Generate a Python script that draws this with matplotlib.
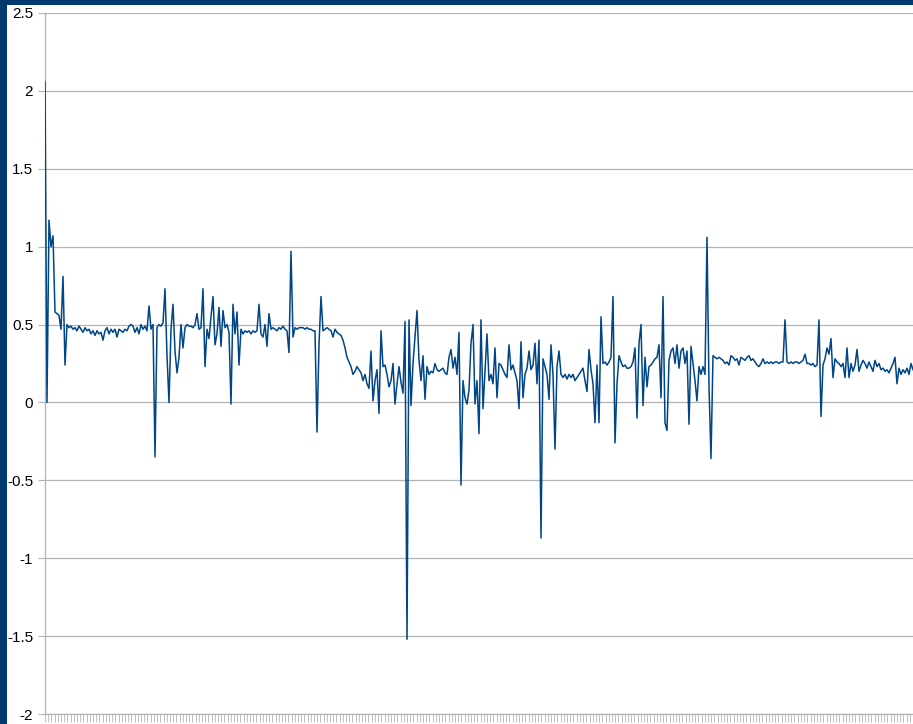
import matplotlib
matplotlib.use("Agg")
import matplotlib.pyplot as plt
from matplotlib.patches import Rectangle
import numpy as np

plt.rcParams['font.family'] = ['Liberation Sans', 'DejaVu Sans']
plt.rcParams['axes.unicode_minus'] = False

# Series values (one sample every ~2 px of the original chart)
seg1 = [2.06, 0.00, 1.17, 1.00, 1.07, 0.58, 0.57, 0.56, 0.47, 0.81, 0.24, 0.50,
        0.48, 0.49, 0.47, 0.48, 0.46, 0.49, 0.47, 0.45, 0.48, 0.46, 0.47, 0.44,
        0.46, 0.43, 0.46, 0.44, 0.45, 0.40, 0.46, 0.48, 0.44, 0.47, 0.45, 0.47,
        0.42, 0.47, 0.46, 0.45, 0.47, 0.46, 0.49, 0.50, 0.49, 0.45, 0.48, 0.44,
        0.50, 0.47, 0.49, 0.46, 0.62, 0.47, 0.50, -0.35, 0.48, 0.50, 0.49, 0.51,
        0.73, 0.30, 0.00, 0.47, 0.63, 0.33, 0.19, 0.29, 0.50, 0.35, 0.48, 0.50,
        0.49]
seg2 = [0.49, 0.48, 0.50, 0.57, 0.47, 0.48, 0.73, 0.23, 0.47, 0.41, 0.55, 0.68,
        0.37, 0.44, 0.61, 0.36, 0.59, 0.48, 0.50, 0.45, -0.01, 0.63, 0.44, 0.58,
        0.24, 0.47, 0.44, 0.46, 0.45, 0.46, 0.44, 0.46, 0.45, 0.46, 0.63, 0.44,
        0.42, 0.50, 0.36, 0.57, 0.47, 0.48, 0.47, 0.46, 0.48, 0.47, 0.49, 0.47,
        0.46, 0.32, 0.97, 0.42, 0.48, 0.47, 0.48, 0.48, 0.48, 0.47, 0.48, 0.47,
        0.47, 0.46, 0.46, -0.19, 0.37, 0.68, 0.46, 0.47, 0.48, 0.47, 0.46, 0.42,
        0.47]
seg3 = [0.45, 0.44, 0.43, 0.40, 0.35, 0.29, 0.26, 0.23, 0.18, 0.20, 0.23, 0.21,
        0.19, 0.14, 0.18, 0.12, 0.09, 0.33, 0.01, 0.14, 0.21, -0.07, 0.46, 0.23,
        0.24, 0.18, 0.10, 0.14, 0.25, -0.01, 0.12, 0.23, 0.13, 0.06, 0.52, -1.52,
        0.53, -0.02, 0.25, 0.42, 0.59, 0.27, 0.14, 0.30, 0.02, 0.23, 0.18, 0.20,
        0.19, 0.25, 0.21, 0.20, 0.21, 0.22, 0.19, 0.18, 0.29, 0.34, 0.22, 0.29,
        0.18, 0.45, -0.53, 0.14, 0.03, -0.01, 0.08, 0.38, 0.50, -0.01, 0.14, -0.20,
        0.53]
seg4 = [-0.04, 0.20, 0.44, 0.14, 0.18, 0.12, 0.35, 0.03, 0.25, 0.24, 0.21, 0.18,
        0.16, 0.37, 0.21, 0.24, 0.19, 0.14, -0.04, 0.39, 0.03, 0.18, 0.22, 0.33,
        0.21, 0.24, 0.38, 0.12, 0.40, -0.87, 0.28, 0.23, 0.18, 0.02, 0.37, 0.18,
        -0.30, 0.23, 0.33, 0.18, 0.16, 0.18, 0.15, 0.18, 0.16, 0.18, 0.14, 0.16,
        0.18, 0.20, 0.22, 0.14, 0.07, 0.34, 0.21, 0.12, -0.13, 0.24, -0.13, 0.55,
        0.25, 0.26, 0.24, 0.26, 0.29, 0.68, -0.26, 0.12, 0.30, 0.26, 0.23, 0.24,
        0.22]
seg5 = [0.22, 0.23, 0.26, 0.35, -0.10, 0.38, 0.50, -0.02, 0.29, 0.10, 0.23, 0.24,
        0.26, 0.28, 0.29, 0.37, 0.03, 0.68, -0.13, -0.18, 0.27, 0.33, 0.35, 0.25,
        0.37, 0.22, 0.33, 0.35, 0.25, 0.33, -0.14, 0.36, 0.25, 0.14, 0.01, 0.23,
        0.18, 0.23, 0.18, 1.06, 0.10, -0.36, 0.30, 0.29, 0.28, 0.29, 0.28, 0.27,
        0.25, 0.26, 0.24, 0.30, 0.29, 0.27, 0.28, 0.24, 0.29, 0.28, 0.27, 0.29,
        0.30, 0.27, 0.28, 0.26, 0.24, 0.23, 0.25, 0.28, 0.25, 0.26, 0.25, 0.26,
        0.25]
seg6 = [0.26, 0.26, 0.25, 0.26, 0.26, 0.53, 0.26, 0.25, 0.26, 0.25, 0.26, 0.26,
        0.25, 0.26, 0.27, 0.31, 0.25, 0.25, 0.24, 0.25, 0.23, 0.24, 0.53, -0.09,
        0.24, 0.28, 0.35, 0.31, 0.41, 0.16, 0.28, 0.26, 0.25, 0.23, 0.25, 0.16,
        0.35, 0.16, 0.25, 0.20, 0.24, 0.34, 0.20, 0.24, 0.27, 0.25, 0.22, 0.26,
        0.23, 0.20, 0.27, 0.23, 0.25, 0.21, 0.22, 0.20, 0.21, 0.19, 0.22, 0.25,
        0.29, 0.12, 0.22, 0.18, 0.21, 0.19, 0.22, 0.18, 0.25, 0.21]

values = seg1 + seg2 + seg3 + seg4 + seg5 + seg6
x = np.arange(len(values))

y_ticks = [-2, -1.5, -1, -0.5, 0, 0.5, 1, 1.5, 2, 2.5]
y_labels = ["-2", "-1.5", "-1", "-0.5", "0", "0.5", "1", "1.5", "2", "2.5"]

W, H = 913, 724
fig = plt.figure(figsize=(W / 100, H / 100), dpi=100)
fig.patch.set_facecolor('white')

navy = '#023a6f'
fig.patches.append(Rectangle((0, 0), 7 / W, 1, transform=fig.transFigure,
                             facecolor=navy, edgecolor='none', zorder=0))
fig.patches.append(Rectangle((0, 1 - 5 / H), 1, 5 / H, transform=fig.transFigure,
                             facecolor=navy, edgecolor='none', zorder=0))

ax = fig.add_axes([45 / W, 10 / H, 868 / W, 701 / H])
ax.set_facecolor('white')
ax.plot(x, values, color='#004586', lw=1.1, zorder=3)

ax.set_xlim(0, len(values) - 1)
ax.set_ylim(-2, 2.5)
ax.set_yticks(y_ticks)
ax.set_yticklabels(y_labels, fontsize=11)
ax.yaxis.grid(True, color='#b3b3b3', lw=0.9)
ax.set_axisbelow(True)

nt = 272
ax.set_xticks(np.linspace(0, len(values) - 1, nt))
ax.set_xticklabels([])
ax.tick_params(axis='x', length=6, width=0.7, color='#c0c0c0', direction='out')
ax.tick_params(axis='y', length=5, width=0.8, color='#b3b3b3', pad=3.5,
               labelcolor='black')

for s in ['top', 'right']:
    ax.spines[s].set_visible(False)
for s in ['left', 'bottom']:
    ax.spines[s].set_color('#b3b3b3')
    ax.spines[s].set_linewidth(0.9)

fig.savefig('out.png', dpi=100, facecolor='white')
